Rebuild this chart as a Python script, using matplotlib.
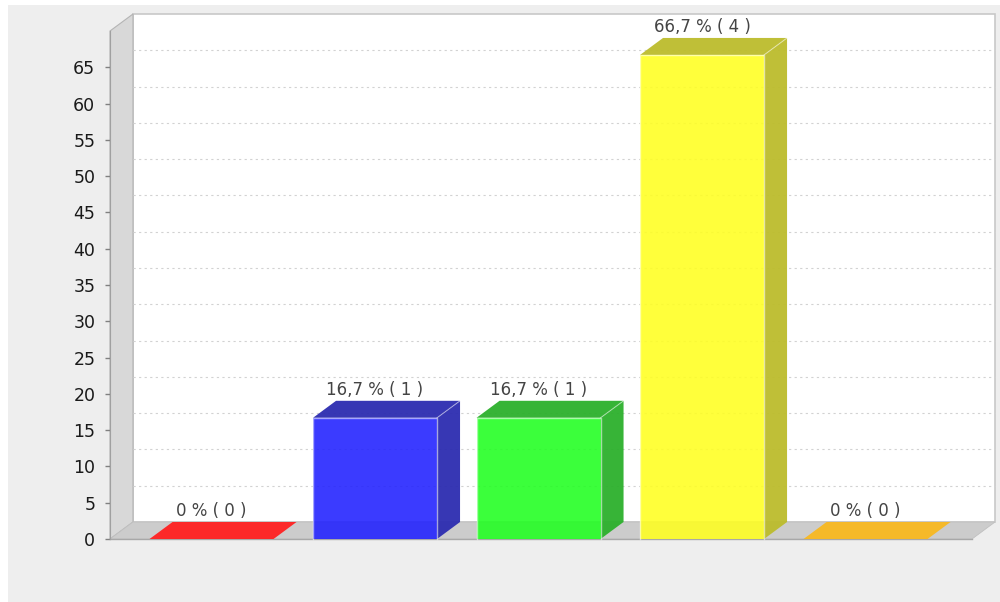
import matplotlib
matplotlib.use("Agg")
import matplotlib.pyplot as plt
from matplotlib.patches import Polygon, Rectangle

categories = ["A", "B", "C", "D", "E"]
values = [0, 16.7, 16.7, 66.7, 0]
labels = ["0 % ( 0 )", "16,7 % ( 1 )", "16,7 % ( 1 )", "66,7 % ( 4 )", "0 % ( 0 )"]
colors = ["#ff2020", "#2020ff", "#20ff20", "#ffff20", "#f8b820"]
dark = ["#b82020", "#2c2cb0", "#2cb02c", "#bcbc2c", "#f0c030"]
yticks = list(range(0, 70, 5))

W, H = 1000, 602
fig = plt.figure(figsize=(W / 100, H / 100), dpi=100, facecolor="#eeeeee")
fig.patches.append(Rectangle((0, 0), 8 / W, 1, transform=fig.transFigure, fc="#ffffff", ec="none"))
fig.patches.append(Rectangle((0, 1 - 5 / H), 1, 5 / H, transform=fig.transFigure, fc="#ffffff", ec="none"))
ax = fig.add_axes([110 / W, 1 - 539 / H, (972 - 110) / W, (539 - 31) / H])
ax.set_xlim(-0.621, 4.651)
ax.set_ylim(0, 70)
ax.patch.set_visible(False)
for s in ax.spines.values():
    s.set_visible(False)

dx = 23 / 163.5
dy = 17 / 7.257
x0, x1 = ax.get_xlim()
y0, y1 = ax.get_ylim()

# walls
ax.add_patch(Polygon([(x0 + dx, y0 + dy), (x1 + dx, y0 + dy), (x1 + dx, y1 + dy), (x0 + dx, y1 + dy)],
                     fc="white", ec="#c8c8c8", lw=1.2, clip_on=False, zorder=1))
ax.add_patch(Polygon([(x0, y0), (x0 + dx, y0 + dy), (x0 + dx, y1 + dy), (x0, y1)],
                     fc="#d8d8d8", ec="#b4b4b4", lw=0.8, clip_on=False, zorder=1))
ax.add_patch(Polygon([(x0, y0), (x1, y0), (x1 + dx, y0 + dy), (x0 + dx, y0 + dy)],
                     fc="#cccccc", ec="#c0c0c0", lw=0.6, clip_on=False, zorder=1))
ax.plot([x0, x1], [y0, y0], color="#a8a8a8", lw=1, clip_on=False, zorder=2)

# grid on the back wall
for v in yticks[1:]:
    ax.plot([x0 + dx, x1 + dx], [v + dy, v + dy], color="#d2d2d2", lw=0.8,
            ls=(0, (2, 3)), clip_on=False, zorder=2)

bw = 124 / 163.5
for i, (v, c, d, t) in enumerate(zip(values, colors, dark, labels)):
    l, r = i - bw / 2, i + bw / 2
    ax.add_patch(Polygon([(l, v), (r, v), (r + dx, v + dy), (l + dx, v + dy)],
                         fc=d if v else c, ec="none", alpha=0.95, clip_on=False, zorder=3))
    if v:
        ax.add_patch(Polygon([(r, 0), (r + dx, dy), (r + dx, v + dy), (r, v)],
                             fc=d, ec="none", alpha=0.95, clip_on=False, zorder=3))
        ax.bar(i, v, bw, color=c, alpha=0.88, edgecolor="none", zorder=4)
        ax.plot([l, l, r, r], [0, v, v, 0], color="#ffffff", alpha=0.55, lw=1, clip_on=False, zorder=5)
        ax.plot([r, r + dx], [v, v + dy], color="#ffffff", alpha=0.45, lw=0.8, clip_on=False, zorder=5)
    ax.annotate(t, (i, v + dy), xytext=(0, 1.5), textcoords="offset points", ha="center", va="bottom",
                fontsize=12, color="#444444", family="DejaVu Sans", zorder=6, annotation_clip=False)

ax.set_xticks([])
ax.set_yticks(yticks)
ax.tick_params(axis="y", length=3.6, width=1, color="#808080", labelsize=12.5, labelcolor="#1a1a1a", pad=7)
ax.spines["left"].set_visible(True)
ax.spines["left"].set_color("#a0a0a0")
ax.spines["left"].set_bounds(0, 70)

fig.savefig("out.png", dpi=100, facecolor=fig.get_facecolor())
